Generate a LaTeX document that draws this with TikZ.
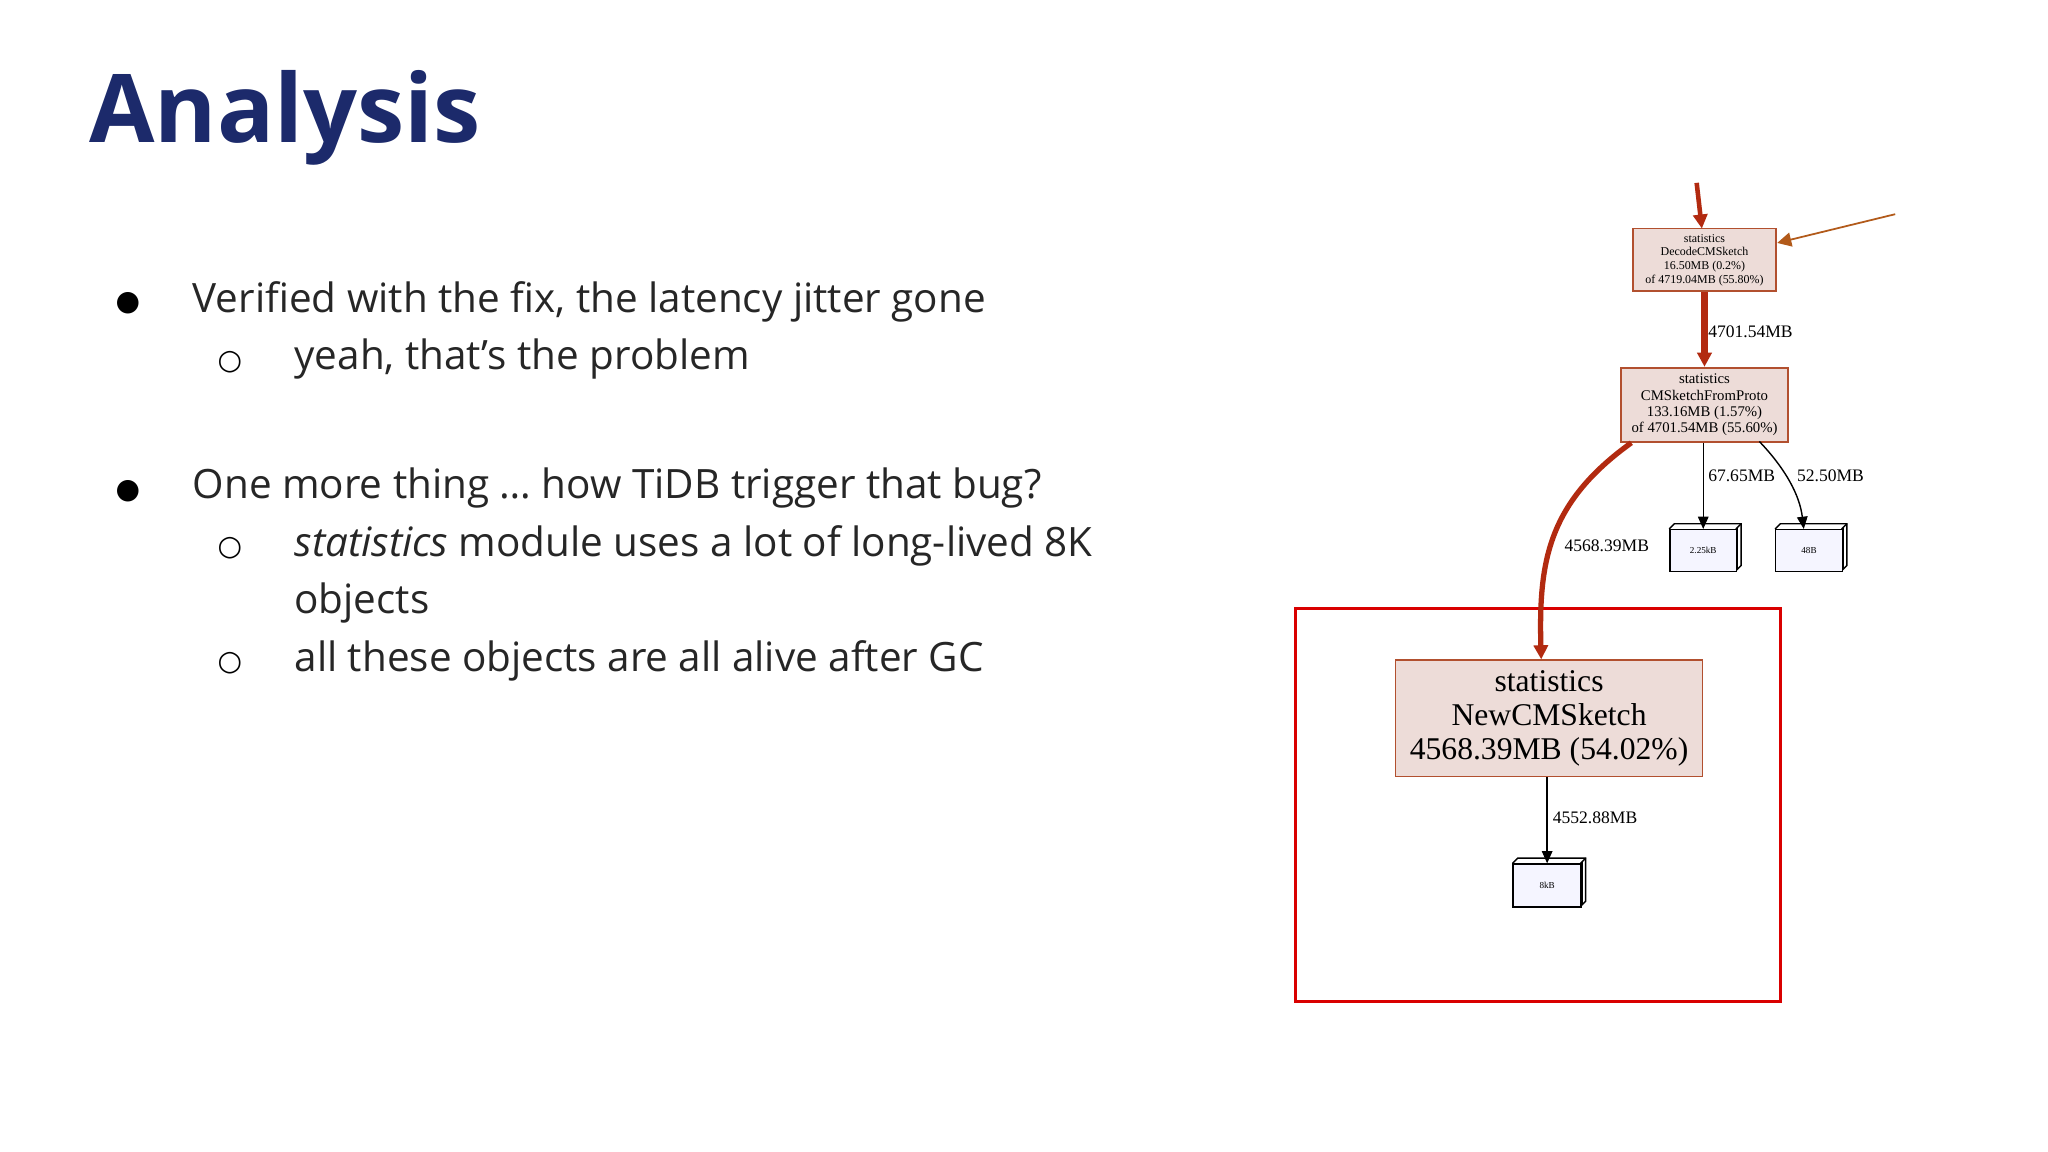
\documentclass[tikz,border=0pt]{standalone}
\usepackage{fontspec}
\setmainfont{Open Sans}
\newfontfamily\djv{DejaVu Sans}
\newfontfamily\tms{Liberation Serif}
\usetikzlibrary{arrows.meta}
\definecolor{navy}{HTML}{1C2A6B}
\definecolor{nfill}{HTML}{EDDCD8}
\definecolor{nedge}{HTML}{B2502F}
\definecolor{hot}{HTML}{B22A10}
\definecolor{warm}{HTML}{B25A1A}
\tikzset{
 fn/.style={draw=nedge,fill=nfill,line width=0.5pt,minimum width=#1,align=center,inner sep=1pt,font=\tms},
 lbl/.style={anchor=west,font=\tms\fontsize{5}{6}\selectfont,inner sep=0.5pt},
 hotarr/.style={draw=hot,line width=1.3pt,-{Triangle[length=4pt,width=4pt]}},
 blk/.style={draw=black,line width=0.4pt,-{Triangle[length=3.5pt,width=3pt]}},
 btxt/.style={anchor=west,font=\fontsize{11.5}{14}\selectfont,text=black!85,inner sep=0pt},
 bul/.style={anchor=center,font=\djv\fontsize{8}{10}\selectfont,inner sep=0pt}
}
\newcommand{\cube}[5]{% name, x1,y1,x2,y2
 \fill[white!95!blue!3] (#2+4,#3-4) -- (#4+4,#3-4) -- (#4+4,#5-4) -- (#4,#5) -- (#2,#3) -- cycle;
 \draw[line width=0.4pt] (#2,#3) -- (#2+4,#3-4) -- (#4+4,#3-4) -- (#4+4,#5-4) -- (#4,#5);
 \draw[line width=0.4pt] (#4,#3) -- (#4+4,#3-4);
 \draw[line width=0.4pt] (#4+1.3,#3-1.3) -- (#4+1.3,#5-1.3);
 \node[draw,line width=0.4pt,fill=white!96!blue,minimum width={(#4-#2)*0.0130612cm},minimum height={(#5-#3)*0.0130612cm},inner sep=0pt,anchor=north west,font=\tms\fontsize{3}{4}\selectfont] (#1) at (#2,#3) {};
}
\begin{document}
\begin{tikzpicture}[x=0.0130612cm,y=-0.0130612cm]
\useasboundingbox[fill=white] (0,0) rectangle (1568,882);
\node[anchor=west,inner sep=0pt,font=\bfseries\fontsize{27}{30}\selectfont,text=navy] (title) at (68,90) {Analysis};
\node[bul] (b1) at (98,232) {●};
\node[btxt] (t1) at (147,231) {Verified with the fix, the latency jitter gone};
\node[bul] (b2) at (176,277) {○};
\node[btxt] (t2) at (225,275) {yeah, that’s the problem};
\node[bul] (b3) at (98,376) {●};
\node[btxt] (t3) at (147,374) {One more thing … how TiDB trigger that bug?};
\node[bul] (b4) at (176,420) {○};
\node[btxt] (t4) at (225,418) {\emph{statistics} module uses a lot of long-lived 8K};
\node[btxt] (t5) at (225,462) {objects};
\node[bul] (b5) at (176,508) {○};
\node[btxt] (t6) at (225,506) {all these objects are all alive after GC};
% graph
\draw[draw=red!85!black,line width=0.8pt] (992,466) rectangle (1363,767);
\node[fn=110*0.0130612cm,minimum height=48*0.0130612cm,font=\tms\fontsize{3.4}{3.9}\selectfont] (dec) at (1305,199) {statistics\\DecodeCMSketch\\16.50MB (0.2\%)\\of 4719.04MB (55.80\%)};
\node[fn=128*0.0130612cm,minimum height=57*0.0130612cm,font=\tms\fontsize{4.2}{4.6}\selectfont] (cms) at (1305,310) {statistics\\CMSketchFromProto\\133.16MB (1.57\%)\\of 4701.54MB (55.60\%)};
\node[fn=235*0.0130612cm,minimum height=89*0.0130612cm,font=\tms\fontsize{9}{9.8}\selectfont] (new) at (1186,550) {statistics\\NewCMSketch\\4568.39MB (54.02\%)};
\cube{k1}{1278}{405}{1329}{437}
\node[font=\tms\fontsize{2.6}{3}\selectfont] at (k1) {2.25kB};
\cube{k2}{1359}{405}{1410}{437}
\node[font=\tms\fontsize{2.6}{3}\selectfont] at (k2) {48B};
\cube{k3}{1158}{661}{1210}{694}
\node[font=\tms\fontsize{2.6}{3}\selectfont] at (k3) {8kB};
\coordinate (in1) at (1299,140);
\coordinate (in2) at (1451,164);
\draw[hotarr] (in1) -- (1303,175);
\draw[draw=warm,line width=0.5pt,-{Triangle[length=4pt,width=4pt]}] (in2) -- (dec.east |- 0,186);
\draw[hotarr,line width=1.8pt] (dec.south) -- (cms.north);
\node[lbl] at (1306,254) {4701.54MB};
\draw[blk] (cms.south -| k1.north) -- (k1.north);
\node[lbl] at (1306,364) {67.65MB};
\draw[blk] (1347,338) .. controls (1368,360) and (1378,380) .. (k2.north -| 1381,0);
\node[lbl] at (1374,364) {52.50MB};
\draw[hotarr,line width=1.5pt] (1249,339) .. controls (1185,385) and (1178,430) .. (new.north -| 1180,0);
\node[lbl] at (1196,418) {4568.39MB};
\draw[blk] (new.south -| k3.north) -- (k3.north);
\node[lbl] at (1187,626) {4552.88MB};
\end{tikzpicture}
\end{document}
